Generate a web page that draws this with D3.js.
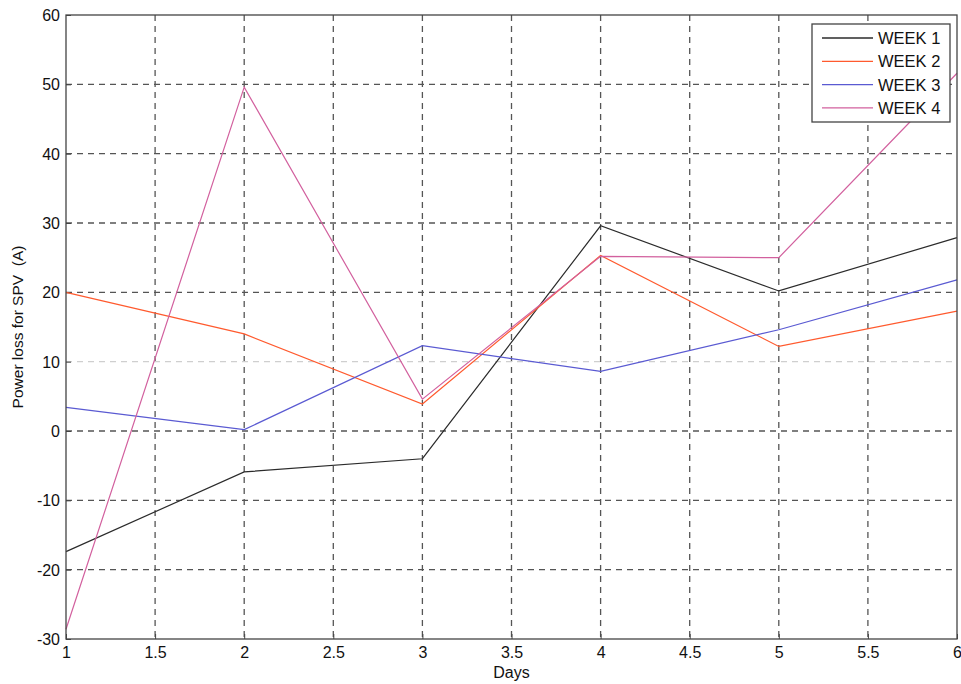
<!DOCTYPE html>
<html>
<head>
<meta charset="utf-8">
<script src="https://cdn.jsdelivr.net/npm/d3@7"></script>
<style>
  html, body { margin: 0; padding: 0; background: #ffffff; }
  svg { display: block; font-family: "Liberation Sans", Arial, sans-serif; }
</style>
</head>
<body>
<svg id="chart" width="961" height="684"></svg>
<script>
const days = [1, 2, 3, 4, 5, 6];
const week1 = [-17.4, -5.9, -4.0, 29.6, 20.2, 27.9];
const week2 = [20.0, 14.0, 3.9, 25.3, 12.2, 17.3];
const week3 = [3.4, 0.2, 12.3, 8.6, 14.6, 21.8];
const week4 = [-28.6, 49.6, 4.6, 25.2, 25.0, 51.6];
const seriesNames = ["WEEK 1", "WEEK 2", "WEEK 3", "WEEK 4"];
const seriesColors = ["#2b2b2b", "#ff5a2e", "#5a5ad2", "#d2609e"];
const xTicks = [1, 1.5, 2, 2.5, 3, 3.5, 4, 4.5, 5, 5.5, 6];
const yTicks = [-30, -20, -10, 0, 10, 20, 30, 40, 50, 60];

const series = [week1, week2, week3, week4];

const svg = d3.select("#chart");
const L = 66, R = 957, T = 15, B = 639;

const x = d3.scaleLinear().domain([1, 6]).range([L, R]);
const y = d3.scaleLinear().domain([-30, 60]).range([B, T]);

// grid
const grid = svg.append("g");
grid.selectAll("line.vx").data(xTicks.slice(1, -1)).enter().append("line")
  .attr("x1", d => x(d)).attr("x2", d => x(d)).attr("y1", T).attr("y2", B)
  .attr("stroke", "#555").attr("stroke-width", 1.3).attr("stroke-dasharray", "6,5");
grid.selectAll("line.hy").data(yTicks.slice(1, -1)).enter().append("line")
  .attr("x1", L).attr("x2", R).attr("y1", d => y(d)).attr("y2", d => y(d))
  .attr("stroke", d => d === 10 ? "#cfcfcf" : "#555").attr("stroke-width", 1.3).attr("stroke-dasharray", "6,5");

// axes
const fmt = d => String(d);
const xAxis = d3.axisBottom(x).tickValues(xTicks).tickFormat(fmt).tickSizeInner(-5).tickSizeOuter(0).tickPadding(8);
const yAxis = d3.axisLeft(y).tickValues(yTicks).tickFormat(fmt).tickSizeInner(-5).tickSizeOuter(0).tickPadding(6);

const gx = svg.append("g").attr("transform", `translate(0,${B})`).call(xAxis);
const gy = svg.append("g").attr("transform", `translate(${L},0)`).call(yAxis);
[gx, gy].forEach(g => {
  g.select(".domain").remove();
  g.selectAll("line").attr("stroke", "#444");
  g.selectAll("text").attr("fill", "#111").style("font-size", "16px")
    .style("font-family", "'Liberation Sans', Arial, sans-serif");
});
gy.selectAll("text").attr("dy", "0.35em");

// data lines
const line = d3.line().x((d, i) => x(days[i])).y(d => y(d));
svg.append("g").selectAll("path").data(series).enter().append("path")
  .attr("d", d => line(d)).attr("fill", "none")
  .attr("stroke", (d, i) => seriesColors[i]).attr("stroke-width", 1.2);

// frame
svg.append("rect").attr("x", L).attr("y", T).attr("width", R - L).attr("height", B - T)
  .attr("fill", "none").attr("stroke", "#444").attr("stroke-width", 1.3);

// labels
svg.append("text").attr("x", (L + R) / 2).attr("y", 678).attr("text-anchor", "middle")
  .style("font-size", "16px").attr("fill", "#111").text("Days");
svg.append("text").attr("transform", `translate(23,${(T + B) / 2}) rotate(-90)`)
  .attr("text-anchor", "middle").style("font-size", "15.5px").attr("fill", "#111")
  .attr("xml:space", "preserve").text("Power loss for SPV  (A)");

// legend
const lg = svg.append("g");
lg.append("rect").attr("x", 812).attr("y", 24).attr("width", 138).attr("height", 98)
  .attr("fill", "#fff").attr("stroke", "#444").attr("stroke-width", 1.3);
seriesNames.forEach((name, i) => {
  const yy = 38 + i * 23.3;
  lg.append("line").attr("x1", 822).attr("x2", 873).attr("y1", yy).attr("y2", yy)
    .attr("stroke", seriesColors[i]).attr("stroke-width", 1.3);
  lg.append("text").attr("x", 878).attr("y", yy).attr("dy", "0.36em")
    .style("font-size", "16.5px").attr("fill", "#111").text(name);
});
</script>
</body>
</html>
